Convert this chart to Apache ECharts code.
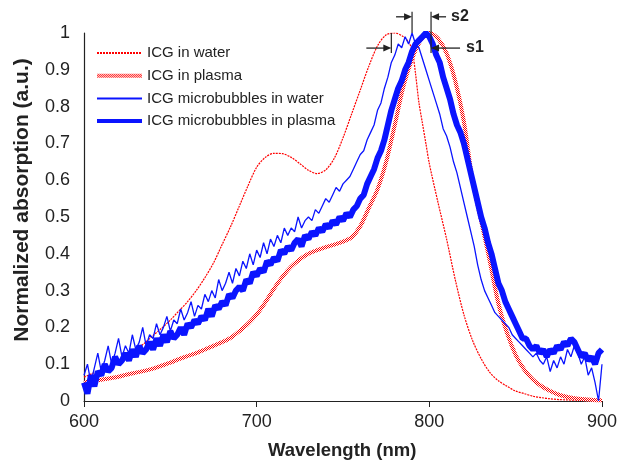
<!DOCTYPE html>
<html>
<head>
<meta charset="utf-8">
<script src="https://cdn.jsdelivr.net/npm/echarts@6/dist/echarts.min.js"></script>
<style>
html,body{margin:0;padding:0;background:#fff;}
#chart{width:620px;height:463px;}
</style>
</head>
<body>
<div id="chart"></div>
<script>
// ---- Data ----
const seriesNames = ["ICG in water", "ICG in plasma", "ICG microbubbles in water", "ICG microbubbles in plasma"];
const xTicks = [600, 700, 800, 900];

// ICG in water (nm, normalized absorption)
const waterWl = [600,605,610,615,620,625,630,635,640,645,650,655,660,665,670,675,680,685,690,695,700,705,710,715,720,725,730,735,740,745,750,755,760,765,770,775,780,785,788,790,792,794,796,798,800,805,810,815,820,825,830,835,840,845,850,855,860,865,870,875,880,885,890,895,900];
const waterAbs = [0.065,0.075,0.085,0.095,0.108,0.12,0.138,0.157,0.178,0.198,0.22,0.245,0.27,0.30,0.335,0.375,0.425,0.475,0.53,0.585,0.635,0.662,0.673,0.672,0.662,0.645,0.627,0.618,0.628,0.66,0.715,0.78,0.845,0.91,0.965,0.995,1.0,0.99,0.975,0.955,0.89,0.81,0.755,0.70,0.645,0.54,0.44,0.33,0.235,0.165,0.115,0.078,0.055,0.04,0.027,0.02,0.013,0.009,0.006,0.004,0.003,0.002,0.001,0.001,0.0];

// ICG in plasma
const plasmaWl = [600,605,610,615,620,625,630,635,640,645,650,655,660,665,670,675,680,685,690,695,700,705,710,715,720,725,730,735,740,745,750,755,760,765,770,775,780,785,790,795,800,805,810,815,820,825,830,835,840,845,850,855,860,865,870,875,880,885,890,895,900];
const plasmaAbs = [0.05,0.055,0.058,0.062,0.066,0.072,0.077,0.082,0.088,0.096,0.104,0.114,0.122,0.13,0.14,0.15,0.16,0.172,0.19,0.21,0.235,0.268,0.305,0.338,0.365,0.385,0.40,0.41,0.418,0.425,0.433,0.445,0.475,0.525,0.575,0.65,0.75,0.855,0.93,0.98,1.0,0.985,0.945,0.87,0.76,0.60,0.49,0.38,0.265,0.185,0.125,0.085,0.058,0.04,0.027,0.017,0.011,0.007,0.005,0.003,0.002];

// ICG microbubbles (2 nm sampling, noisy spectra)
const mbWl = [600,602,604,606,608,610,612,614,616,618,620,622,624,626,628,630,632,634,636,638,640,642,644,646,648,650,652,654,656,658,660,662,664,666,668,670,672,674,676,678,680,682,684,686,688,690,692,694,696,698,700,702,704,706,708,710,712,714,716,718,720,722,724,726,728,730,732,734,736,738,740,742,744,746,748,750,752,754,756,758,760,762,764,766,768,770,772,774,776,778,780,782,784,786,788,790,792,794,796,798,800,802,804,806,808,810,812,814,816,818,820,822,824,826,828,830,832,834,836,838,840,842,844,846,848,850,852,854,856,858,860,862,864,866,868,870,872,874,876,878,880,882,884,886,888,890,892,894,896,898,900];
const mbWaterAbs = [0.07,0.1,0.05,0.09,0.13,0.08,0.11,0.15,0.1,0.13,0.17,0.12,0.15,0.13,0.18,0.14,0.16,0.2,0.15,0.18,0.17,0.21,0.18,0.2,0.23,0.19,0.22,0.21,0.25,0.22,0.24,0.27,0.23,0.26,0.25,0.29,0.27,0.3,0.28,0.33,0.3,0.32,0.35,0.32,0.36,0.34,0.38,0.36,0.4,0.37,0.41,0.39,0.43,0.4,0.44,0.42,0.45,0.43,0.47,0.45,0.47,0.46,0.5,0.47,0.49,0.5,0.49,0.52,0.51,0.53,0.55,0.54,0.56,0.58,0.57,0.59,0.6,0.61,0.63,0.65,0.67,0.68,0.71,0.73,0.75,0.79,0.81,0.85,0.88,0.92,0.94,0.97,0.96,0.99,0.97,1.0,0.97,0.96,0.93,0.9,0.87,0.84,0.81,0.78,0.74,0.72,0.69,0.65,0.62,0.58,0.54,0.5,0.46,0.42,0.37,0.33,0.3,0.28,0.26,0.24,0.23,0.22,0.21,0.2,0.18,0.17,0.16,0.15,0.14,0.13,0.12,0.13,0.11,0.1,0.12,0.08,0.11,0.09,0.12,0.1,0.14,0.12,0.15,0.13,0.1,0.12,0.07,0.09,0.05,0.0,0.1];
const mbPlasmaAbs = [0.05,0.02,0.07,0.04,0.08,0.07,0.1,0.08,0.09,0.12,0.1,0.11,0.13,0.11,0.14,0.12,0.15,0.13,0.14,0.16,0.14,0.17,0.15,0.18,0.16,0.19,0.17,0.18,0.2,0.18,0.21,0.2,0.22,0.21,0.23,0.22,0.25,0.23,0.26,0.25,0.27,0.26,0.29,0.28,0.3,0.31,0.3,0.33,0.32,0.35,0.34,0.36,0.35,0.38,0.37,0.39,0.38,0.41,0.4,0.42,0.41,0.43,0.44,0.42,0.45,0.44,0.46,0.45,0.47,0.46,0.48,0.47,0.49,0.48,0.5,0.49,0.51,0.5,0.52,0.53,0.55,0.56,0.59,0.61,0.63,0.66,0.68,0.71,0.75,0.79,0.82,0.85,0.87,0.9,0.92,0.95,0.97,0.98,0.99,1.0,0.99,0.97,0.94,0.92,0.88,0.85,0.82,0.78,0.75,0.73,0.7,0.66,0.62,0.58,0.54,0.5,0.47,0.43,0.4,0.36,0.32,0.3,0.27,0.25,0.23,0.21,0.19,0.17,0.17,0.15,0.14,0.15,0.13,0.14,0.12,0.14,0.13,0.15,0.14,0.16,0.15,0.17,0.16,0.14,0.12,0.13,0.11,0.12,0.1,0.13,0.14];

// Peak positions used by the s1/s2 annotation
const peakWater = 778, peakMbWater = 790, peakPlasma = 801;

// ---- Build ----
function pairs(xs, ys){ return xs.map((x,i)=>[x, ys[i]]); }
function checker(){
  const c = document.createElement('canvas'); c.width = 2; c.height = 2;
  const g = c.getContext('2d');
  g.fillStyle = '#ffffff'; g.fillRect(0,0,2,2);
  g.fillStyle = '#ff0000'; g.fillRect(0,0,1,1); g.fillRect(1,1,1,1);
  return c;
}
const RED = '#ff0000', BLUE = '#0a14ff', INK = '#222222';
const redPattern = {image:checker(), repeat:'repeat'};
const chart = echarts.init(document.getElementById('chart'), null, {renderer:'canvas'});
const font = 'Liberation Sans, Arial, sans-serif';
chart.setOption({
  animation:false,
  backgroundColor:'#ffffff',
  grid:{left:84, right:15, top:33, bottom:62},
  legend:{
    orient:'vertical', left:90, top:39, itemWidth:45, itemHeight:14, itemGap:4.7,
    data:[
      {name:seriesNames[0], itemStyle:{opacity:0}},
      {name:seriesNames[1], itemStyle:{opacity:0}, lineStyle:{color:redPattern, width:4}},
      {name:seriesNames[2], itemStyle:{opacity:0}},
      {name:seriesNames[3], itemStyle:{opacity:0}, lineStyle:{width:4}}
    ],
    textStyle:{fontFamily:font, fontSize:15, color:INK, lineHeight:18}
  },
  xAxis:{
    type:'value', min:600, max:900, interval:100,
    axisLine:{lineStyle:{color:INK, width:1.2}},
    axisTick:{show:true, length:6, lineStyle:{color:INK}},
    splitLine:{show:false},
    axisLabel:{fontFamily:font, fontSize:18, color:INK, margin:12}
  },
  yAxis:{
    type:'value', min:0, max:1, interval:0.1,
    axisLine:{show:true, lineStyle:{color:INK, width:1.2}},
    axisTick:{show:false},
    splitLine:{show:false},
    axisLabel:{fontFamily:font, fontSize:18, color:INK, margin:14}
  },
  series:[
    {name:seriesNames[0], type:'line', data:pairs(waterWl, waterAbs), smooth:0.3, symbol:'none',
     lineStyle:{color:RED, width:1.2, type:[2,1]}, itemStyle:{color:RED}, z:2},
    {name:seriesNames[1], type:'line', data:pairs(plasmaWl, plasmaAbs), smooth:0.3, symbol:'none',
     lineStyle:{color:redPattern, width:4}, itemStyle:{color:RED}, z:3},
    {name:seriesNames[3], type:'line', data:pairs(mbWl, mbPlasmaAbs), symbol:'none',
     lineStyle:{color:BLUE, width:6}, itemStyle:{color:BLUE}, z:4},
    {name:seriesNames[2], type:'line', data:pairs(mbWl, mbWaterAbs), symbol:'none',
     lineStyle:{color:BLUE, width:1.3}, itemStyle:{color:BLUE}, z:5}
  ]
});

// ---- Axis titles and s1/s2 annotation ----
function P(x, y){ return chart.convertToPixel({gridIndex:0}, [x, y]); }
const els = [];
els.push({type:'text', left:268, top:441, style:{text:'Wavelength (nm)', font:'bold 18.5px '+font, fill:INK}});
els.push({type:'text', x:22, y:200, rotation:Math.PI/2, style:{text:'Normalized absorption (a.u.)', font:'bold 21px '+font, fill:INK, align:'center', verticalAlign:'middle'}});

const yTop = P(0,1.044)[1], yBot = P(0,0.959)[1], yPeak = P(0,1.0)[1];
const xW = P(peakWater,0)[0], xMW = P(peakMbWater,0)[0], xPl = P(peakPlasma,0)[0];
function vline(x, y1, y2){ els.push({type:'line', shape:{x1:x, y1:y1, x2:x, y2:y2}, style:{stroke:INK, lineWidth:1.2}, z:20}); }
function arrow(xFrom, xTo, y){
  const d = xTo > xFrom ? 1 : -1;
  els.push({type:'line', shape:{x1:xFrom, y1:y, x2:xTo - d*6, y2:y}, style:{stroke:INK, lineWidth:1.3}, z:20});
  els.push({type:'polygon', shape:{points:[[xTo, y],[xTo - d*8, y-3.5],[xTo - d*8, y+3.5]]}, style:{fill:INK}, z:20});
}
vline(xW, yPeak, yBot + 5);
vline(xMW, yTop - 5, yPeak);
vline(xPl, yTop - 5, yBot + 5);
arrow(xW - 25, xW, yBot);
arrow(xMW - 16, xMW, yTop);
arrow(xPl + 15, xPl, yTop);
arrow(xPl + 29, xPl, yBot);
els.push({type:'text', x:xPl + 20, y:yTop, style:{text:'s2', font:'bold 16px '+font, fill:INK, verticalAlign:'middle'}, z:20});
els.push({type:'text', x:xPl + 35, y:yBot, style:{text:'s1', font:'bold 16px '+font, fill:INK, verticalAlign:'middle'}, z:20});
chart.setOption({graphic:{elements:els}});
</script>
</body>
</html>
